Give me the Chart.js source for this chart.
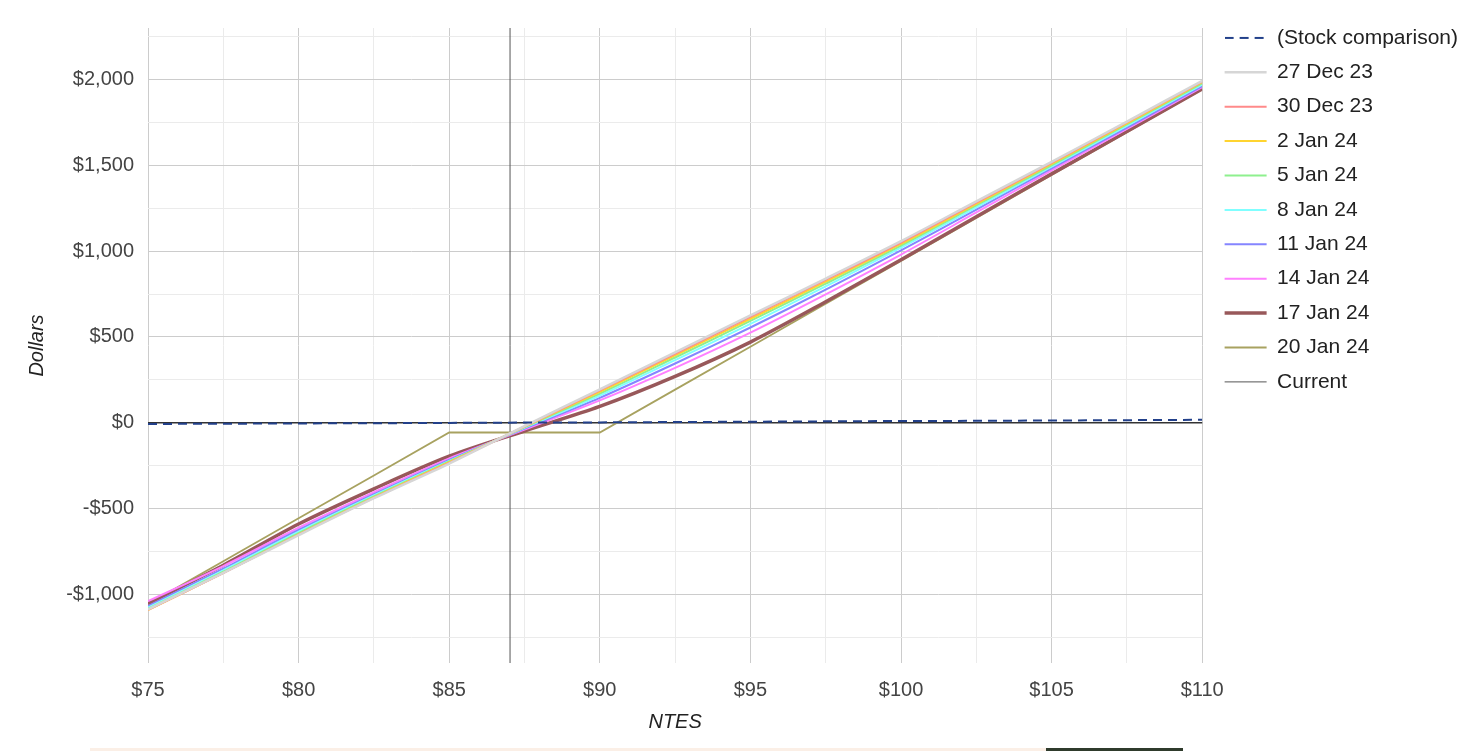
<!DOCTYPE html>
<html>
<head>
<meta charset="utf-8">
<script src="https://cdn.jsdelivr.net/npm/chart.js@4.4.0/dist/chart.umd.min.js"></script>
<style>
  html, body { margin: 0; padding: 0; background: #fff; overflow: hidden; }
  #wrap { position: relative; width: 1470px; height: 751px; }
  .strip { position: absolute; top: 748px; height: 3px; }
</style>
</head>
<body>
<div id="wrap">
  <canvas id="plChart"></canvas>
  <div class="strip" style="left:90px;width:956px;background:#fbefe6"></div>
  <div class="strip" style="left:1046px;width:137px;background:#2f3b2c"></div>
</div>
<script>
// underlying price (x) for every curve
const prices = [75, 77.5, 80, 82.5, 85, 87.5, 90, 92.5, 95, 97.5, 100, 102.5, 105, 107.5, 110];

// profit / loss in dollars
const stockComparison = [-7, -6, -4, -3, -1, 1, 2, 4, 6, 8, 10, 11, 13, 15, 17];
const dec27 = [-1088, -875, -655, -440, -238, -20, 195, 410, 625, 840, 1058, 1290, 1520, 1755, 1992];
const dec30 = [-1090, -876, -652, -438, -234, -22, 188, 402, 617, 832, 1050, 1283, 1514, 1750, 1988];
const jan2 = [-1092, -875, -650, -435, -230, -24, 180, 392, 606, 822, 1042, 1275, 1508, 1745, 1984];
const jan5 = [-1085, -868, -643, -430, -226, -26, 170, 380, 593, 810, 1032, 1266, 1500, 1738, 1978];
const jan8 = [-1078, -860, -635, -424, -222, -30, 158, 365, 576, 795, 1020, 1255, 1492, 1730, 1970];
const jan11 = [-1068, -850, -625, -416, -216, -34, 145, 345, 555, 775, 1004, 1242, 1482, 1720, 1962];
const jan14 = [-1040, -835, -612, -405, -208, -40, 130, 320, 525, 748, 980, 1225, 1470, 1712, 1955];
const jan17 = [-1055, -830, -590, -385, -195, -48, 95, 270, 470, 705, 950, 1200, 1450, 1697, 1945];
const jan20 = [-1057, -807, -557, -307, -57, -57, -57, 193, 443, 693, 943, 1193, 1443, 1693, 1943];

const currentPrice = 87.02;

// axes
const xMin = 75, xMax = 110;
const yMin = -1400, yMax = 2300;
const xTicks = [75, 77.5, 80, 82.5, 85, 87.5, 90, 92.5, 95, 97.5, 100, 102.5, 105, 107.5, 110];
const yTicks = [-1250, -1000, -750, -500, -250, 0, 250, 500, 750, 1000, 1250, 1500, 1750, 2000, 2250];

function pts(ys) {
  return prices.map((p, i) => ({ x: p, y: ys[i] }));
}

function money(v) {
  const s = '$' + Math.abs(v).toLocaleString('en-US');
  return v < 0 ? '-' + s : s;
}

Chart.defaults.font.family = '"Liberation Sans", Arial, sans-serif';

// legend swatch for the dashed series (point style 'line' ignores dashes)
const dashSwatch = document.createElement('canvas');
dashSwatch.width = 42;
dashSwatch.height = 4;
(function () {
  const c = dashSwatch.getContext('2d');
  c.strokeStyle = '#22408a';
  c.lineWidth = 2;
  c.setLineDash([9, 6]);
  c.beginPath();
  c.moveTo(0, 2);
  c.lineTo(42, 2);
  c.stroke();
})();

// nudge legend to sit like the original (a bit right and up)
const legendNudge = {
  id: 'legendNudge',
  afterLayout(chart) {
    const lg = chart.legend;
    if (!lg) return;
    lg.left += 9; lg.right += 9;
    lg.top -= 14; lg.bottom -= 14;
  }
};

function line(label, ys, color, width, extra) {
  return Object.assign({
    label: label,
    data: pts(ys),
    borderColor: color,
    backgroundColor: color,
    borderWidth: width,
    pointRadius: 0,
    pointStyle: 'line',
    tension: 0.3,
    fill: false
  }, extra || {});
}

new Chart('plChart', {
  type: 'line',
  data: {
    datasets: [
      line('(Stock comparison)', stockComparison, '#22408a', 2, { borderDash: [9, 6], tension: 0, pointStyle: dashSwatch }),
      line('27 Dec 23', dec27, '#d6d6d6', 2.5),
      line('30 Dec 23', dec30, '#ff8a8a', 2),
      line('2 Jan 24', jan2, '#ffd430', 2),
      line('5 Jan 24', jan5, '#8ef08e', 2),
      line('8 Jan 24', jan8, '#80ffff', 2),
      line('11 Jan 24', jan11, '#8585ff', 2),
      line('14 Jan 24', jan14, '#ff80ff', 2),
      line('17 Jan 24', jan17, '#98585a', 3.5),
      line('20 Jan 24', jan20, '#a8a260', 1.8, { tension: 0 }),
      {
        label: 'Current',
        data: [{ x: currentPrice, y: yMin }, { x: currentPrice, y: yMax }],
        borderColor: '#555',
        backgroundColor: '#555',
        borderWidth: 1,
        pointRadius: 0,
        pointStyle: 'line',
        fill: false
      }
    ]
  },
  options: {
    responsive: true,
    maintainAspectRatio: false,
    animation: false,
    layout: { padding: { left: 0, right: 11, top: 28, bottom: 0 } },
    plugins: {
      tooltip: { enabled: false },
      legend: {
        position: 'right',
        align: 'start',
        labels: {
          usePointStyle: true,
          pointStyleWidth: 42,
          padding: 13.4,
          color: '#222',
          font: { size: 21 }
        }
      }
    },
    scales: {
      x: {
        type: 'linear',
        min: xMin,
        max: xMax,
        afterBuildTicks: s => { s.ticks = xTicks.map(v => ({ value: v })); },
        afterFit: s => { s.height = 88; },
        border: { display: false },
        grid: {
          drawTicks: false,
          color: c => (c.tick.value % 5 === 0 ? '#cccccc' : '#ebebeb'),
          lineWidth: 1
        },
        ticks: {
          autoSkip: false,
          maxRotation: 0,
          padding: 15,
          color: '#444',
          font: { size: 20 },
          callback: v => (v % 5 === 0 ? '$' + v : '')
        },
        title: {
          display: true,
          text: 'NTES',
          color: '#222',
          font: { size: 20, style: 'italic' },
          padding: { top: 0, bottom: 17 }
        }
      },
      y: {
        min: yMin,
        max: yMax,
        afterBuildTicks: s => { s.ticks = yTicks.map(v => ({ value: v })); },
        afterFit: s => { s.width = 148; },
        border: { display: false },
        grid: {
          drawTicks: false,
          color: c => (c.tick.value === 0 ? '#333' : (c.tick.value % 500 === 0 ? '#cccccc' : '#ebebeb')),
          lineWidth: c => (c.tick.value === 0 ? 1.5 : 1)
        },
        ticks: {
          autoSkip: false,
          padding: 14,
          color: '#444',
          font: { size: 20 },
          callback: v => (v % 500 === 0 ? money(v) : '')
        },
        title: {
          display: true,
          text: 'Dollars',
          color: '#222',
          font: { size: 20, style: 'italic' },
          padding: { top: 25, bottom: 0 }
        }
      }
    }
  },
  plugins: [legendNudge]
});
</script>
</body>
</html>
